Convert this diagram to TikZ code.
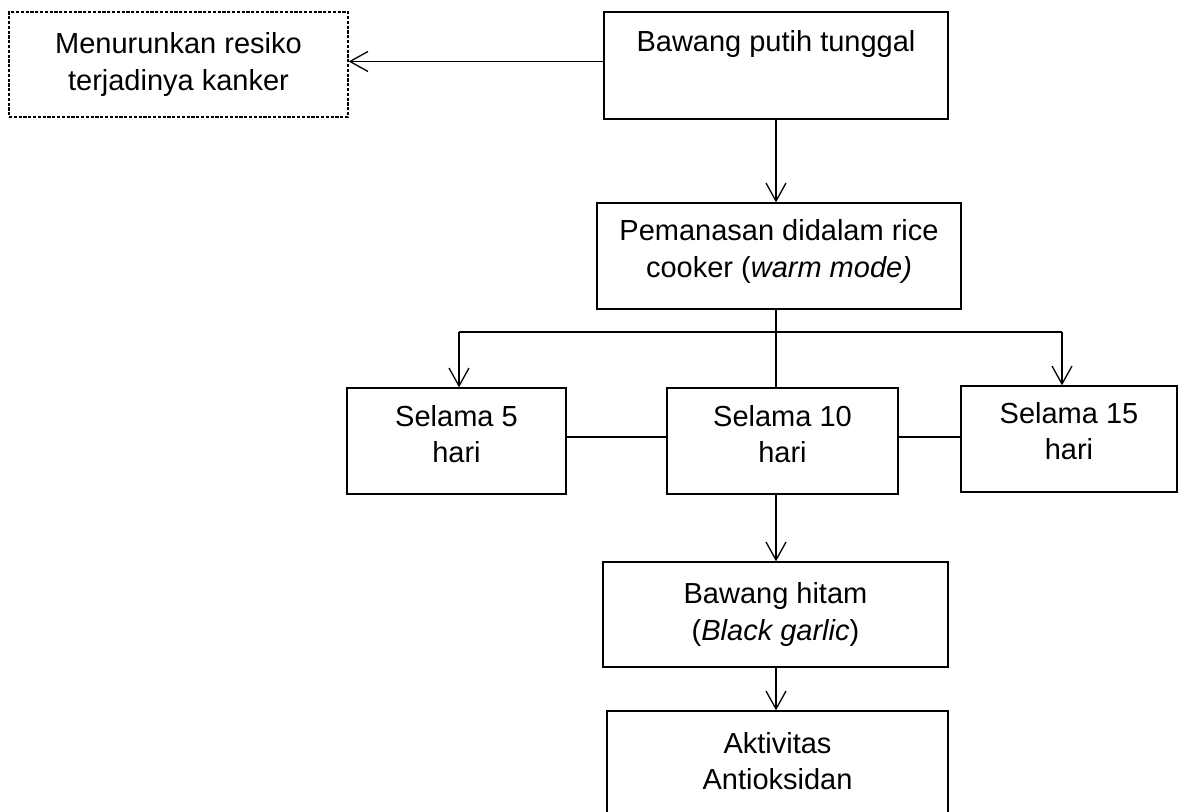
\documentclass[tikz,border=0pt]{standalone}
\usepackage{fontspec}
\setmainfont{Liberation Sans}
\usepackage{tikz}
\usetikzlibrary{arrows.meta, positioning, calc}

\begin{document}
\begin{tikzpicture}[x=0.5pt, y=-0.5pt, line width=0.65pt,
    kotak/.style={draw, rectangle, align=center, inner sep=0pt,
      font=\fontsize{14.5}{18.25}\selectfont},
    kotakputus/.style={kotak, dash pattern=on 1.6pt off 0.8pt},
    panah/.style={-{Straight Barb[length=9pt, width=10pt]}}]
  \useasboundingbox (0,0) rectangle (1184,812);

  % boxes
  \node[kotakputus, minimum width=169.5pt, minimum height=52.5pt] (risiko) at (178.5,64.5)
    {Menurunkan resiko\\terjadinya kanker};
  \node[kotak, minimum width=172pt, minimum height=53.5pt] (putih) at (776,65.5)
    {Bawang putih tunggal\\[6pt]\mbox{}};
  \node[kotak, minimum width=182pt, minimum height=53pt] (panas) at (779,256)
    {Pemanasan didalam rice\\cooker (\textit{warm mode)}\\[-10.75pt]\mbox{}};
  \node[kotak, minimum width=109.5pt, minimum height=53pt] (lima) at (456.5,441)
    {Selama 5\\hari\\[-11.25pt]\mbox{}};
  \node[kotak, minimum width=115.5pt, minimum height=53pt] (sepuluh) at (782.5,441)
    {Selama 10\\hari\\[-11.25pt]\mbox{}};
  \node[kotak, minimum width=108pt, minimum height=53pt] (limabelas) at (1069,439)
    {Selama 15\\hari\\[-10.25pt]\mbox{}};
  \node[kotak, minimum width=172.5pt, minimum height=52.5pt] (hitam) at (775.5,614.5)
    {Bawang hitam\\(\textit{Black garlic})};
  \node[kotak, minimum width=170.5pt, minimum height=56pt] (aktif) at (777.5,767)
    {Aktivitas\\Antioksidan\\[-12.25pt]\mbox{}};

  % branch points
  \coordinate (kiri) at (459,332);
  \coordinate (tengah) at (776,332);
  \coordinate (kanan) at (1062,332);

  % connectors
  \draw[panah] ([yshift=2pt]putih.west) -- ([yshift=2pt]putih.west -| risiko.east);
  \draw[panah] (putih.south) -- (putih.south |- panas.north);
  \draw (panas.south -| tengah) -- (sepuluh.north -| tengah);
  \draw (kiri) -- (kanan);
  \draw[panah] (kiri) -- (kiri |- lima.north);
  \draw[panah] (kanan) -- (kanan |- limabelas.north);
  \draw ([yshift=2pt]lima.east) -- ([yshift=2pt]lima.east -| sepuluh.west);
  \draw ([yshift=2pt]sepuluh.east) -- ([yshift=2pt]sepuluh.east -| limabelas.west);
  \draw[panah] (sepuluh.south -| tengah) -- (hitam.north -| tengah);
  \draw[panah] (hitam.south -| tengah) -- (aktif.north -| tengah);
\end{tikzpicture}
\end{document}
